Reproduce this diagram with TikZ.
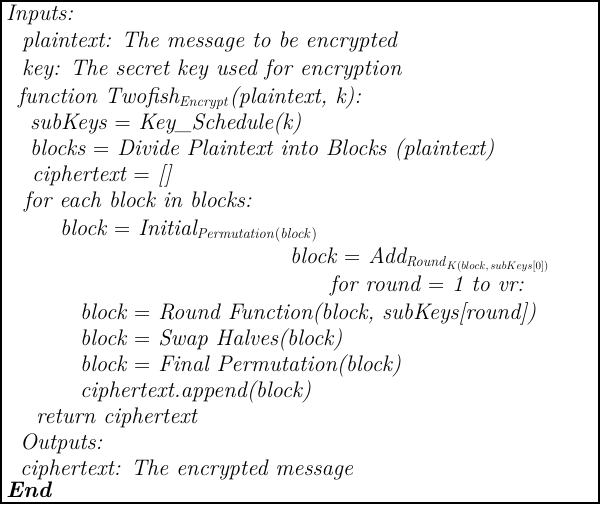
\documentclass[tikz,border=0pt]{standalone}
\begin{document}
\begin{tikzpicture}[x=1pt,y=-1pt,
  ln/.style={anchor=base west,inner sep=0pt,font=\fontsize{22.5}{26}\selectfont\itshape}]
\useasboundingbox (0,0) rectangle (600,504);
\draw[line width=1.2pt] (1,1) rectangle (599,503);
\node[ln] (l1) at (6,20) {Inputs:};
\node[ln] (l2) at (22,47) {plaintext: The message to be encrypted};
\node[ln] (l3) at (22,75) {key: The secret key used for encryption};
\node[ln] (l4) at (18,103) {function Twofish$_{\mathit{Encrypt}}$(plaintext, k):};
\node[ln] (l5) at (30,129) {subKeys {\upshape =} Key\_Schedule(k)};
\node[ln] (l6) at (30,155) {blocks {\upshape =} Divide Plaintext into Blocks (plaintext)};
\node[ln] (l7) at (32,181) {ciphertext {\upshape =} []};
\node[ln] (l8) at (24,207) {for each block in blocks:};
\node[ln] (l9) at (60,235) {block {\upshape =} Initial$_{\mathit{Permutation(block)}}$};
\node[ln] (l10) at (290,263) {block {\upshape =} Add$_{\mathit{Round}_{K(block,\,subKeys[0])}}$};
\node[ln] (l11) at (330,291) {for round {\upshape =} 1 to vr:};
\node[ln] (l12) at (80,319) {block {\upshape =} Round Function(block, subKeys[round])};
\node[ln] (l13) at (80,345) {block {\upshape =} Swap Halves(block)};
\node[ln] (l14) at (80,371) {block {\upshape =} Final Permutation(block)};
\node[ln] (l15) at (80,397) {ciphertext.append(block)};
\node[ln] (l16) at (36,423) {return ciphertext};
\node[ln] (l17) at (20,449) {Outputs:};
\node[ln] (l18) at (20,475) {ciphertext: The encrypted message};
\node[ln] (l19) at (6,497) {\bfseries End};
\end{tikzpicture}
\end{document}
